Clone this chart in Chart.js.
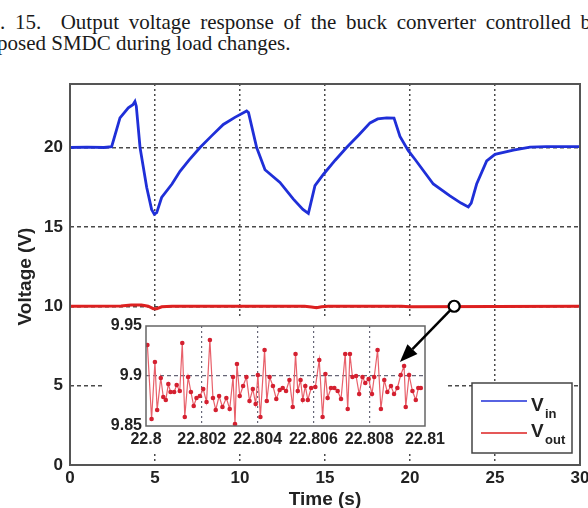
<!DOCTYPE html>
<html>
<head>
<meta charset="utf-8">
<script src="https://cdn.jsdelivr.net/npm/chart.js@4.4.1/dist/chart.umd.min.js"></script>
<style>
html,body{margin:0;padding:0;background:#fff;width:588px;height:508px;overflow:hidden;position:relative}
.cap{position:absolute;font-family:"Liberation Serif","Times New Roman",serif;font-size:21px;line-height:21px;color:#1a1a1a}
#cap1{left:0px;top:12px;width:591px;text-align:justify;text-align-last:justify;white-space:normal}
#cap2{left:-3px;top:33px;white-space:nowrap}
canvas{position:absolute}
</style>
</head>
<body>
<div class="cap" id="cap1">. 15.&nbsp; Output voltage response of the buck converter controlled b</div>
<div class="cap" id="cap2">posed SMDC during load changes.</div>
<canvas id="main" width="588" height="508" style="left:0;top:0"></canvas>
<canvas id="inset" width="380" height="162" style="left:100px;top:296px"></canvas>
<script>
// ---------- data ----------
const xTitle = 'Time (s)';
const yTitle = 'Voltage (V)';
const xTicks = [0, 5, 10, 15, 20, 25, 30];
const yTicks = [0, 5, 10, 15, 20];
const legendSubs = ['in', 'out'];

const vinTime = [0, 1, 2, 2.45, 2.94, 3.43, 3.7, 3.82, 3.9, 4.12, 4.51, 4.8, 4.96, 5.1, 5.39, 6.0, 6.47, 7.0, 7.65, 8.3, 9.02, 9.7, 10.39, 10.5, 10.98, 11.47, 12.35, 13.14, 13.7, 14.02, 14.1, 14.41, 14.9, 15.6, 16.27, 17.0, 17.65, 18.1, 18.63, 19.06, 19.41, 19.9, 20.29, 21.37, 22.35, 23.0, 23.43, 23.6, 23.92, 24.51, 25.0, 26.08, 27.06, 28, 30];
const vinValues = [20.0, 20.02, 20.0, 20.05, 21.87, 22.5, 22.7, 22.9, 22.6, 20.0, 17.5, 16.1, 15.8, 15.9, 16.85, 17.7, 18.5, 19.2, 20.0, 20.7, 21.45, 21.9, 22.3, 22.2, 20.0, 18.6, 17.8, 16.75, 16.1, 15.85, 16.2, 17.6, 18.3, 19.2, 20.0, 20.8, 21.55, 21.8, 21.87, 21.85, 20.7, 19.8, 19.26, 17.7, 16.95, 16.5, 16.26, 16.5, 17.7, 19.15, 19.57, 19.83, 20.03, 20.05, 20.05];

const voutTime = [0, 3.0, 3.6, 4.2, 4.6, 4.9, 5.1, 5.4, 6.0, 13.8, 14.2, 14.5, 14.8, 15.2, 19.5, 20.0, 30];
const voutValues = [10.0, 10.02, 10.08, 10.08, 10.0, 9.85, 9.85, 9.97, 10.0, 10.0, 9.95, 9.9, 9.97, 10.0, 10.0, 9.97, 10.0];

const insetXTicks = [22.8, 22.802, 22.804, 22.806, 22.808, 22.81];
const insetYTicks = [9.85, 9.9, 9.95];
const insetTime = [22.80005, 22.80020, 22.80032, 22.80040, 22.80053, 22.80062, 22.80071, 22.80080, 22.80088, 22.80101,
  22.80110, 22.80121, 22.80130, 22.80139, 22.80151, 22.80161, 22.80171, 22.80181, 22.80193, 22.80205,
  22.80217, 22.80229, 22.80240, 22.80250, 22.80262, 22.80274, 22.80288, 22.80300, 22.80312, 22.80319,
  22.80326, 22.80336, 22.80348, 22.80360, 22.80371, 22.80383, 22.80393, 22.80401, 22.80410, 22.80425,
  22.80433, 22.80443, 22.80455, 22.80467, 22.80479, 22.80490, 22.80502, 22.80514, 22.80526, 22.80536,
  22.80544, 22.80554, 22.80562, 22.80571, 22.80580, 22.80592, 22.80607, 22.80621, 22.80633, 22.80643,
  22.80651, 22.80663, 22.80675, 22.80687, 22.80699, 22.80714, 22.80723, 22.80731, 22.80740, 22.80753,
  22.80764, 22.80776, 22.80786, 22.80798, 22.80810, 22.80818, 22.80830, 22.80842, 22.80854, 22.80865,
  22.80878, 22.80889, 22.80901, 22.80913, 22.80925, 22.80931, 22.80943, 22.80955, 22.80967, 22.80976, 22.80985];
const insetVout = [9.931, 9.857, 9.914, 9.866, 9.898, 9.879, 9.876, 9.892, 9.884, 9.884,
  9.891, 9.885, 9.933, 9.859, 9.899, 9.884, 9.870, 9.878, 9.880, 9.887,
  9.874, 9.936, 9.878, 9.866, 9.880, 9.869, 9.878, 9.867, 9.899, 9.852,
  9.912, 9.880, 9.890, 9.899, 9.875, 9.887, 9.872, 9.901, 9.859, 9.926,
  9.875, 9.899, 9.890, 9.877, 9.886, 9.888, 9.885, 9.896, 9.869, 9.922,
  9.885, 9.896, 9.876, 9.890, 9.876, 9.888, 9.889, 9.916, 9.859, 9.902,
  9.878, 9.888, 9.888, 9.885, 9.877, 9.922, 9.867, 9.922, 9.899, 9.900,
  9.882, 9.899, 9.893, 9.897, 9.882, 9.899, 9.926, 9.867, 9.896, 9.884,
  9.890, 9.882, 9.888, 9.901, 9.910, 9.869, 9.901, 9.885, 9.876, 9.888, 9.888];

// annotation anchors (data coordinates)
const markerPoint = {x: 22.6, y: 10};
const arrowTip = {x: 22.8091, y: 9.914};

// ---------- styling ----------
const FONT = '"Liberation Sans", Arial, Helvetica, sans-serif';
Chart.defaults.font.family = FONT;
Chart.defaults.color = '#222';
const BLUE = '#1f2fd8';
const RED = '#dd2020';
const GRID = '#4a4a4a';

const pairs = (xs, ys) => xs.map((x, i) => ({x: x, y: ys[i]}));
const isEdge = (c, lo, hi) => c.tick && (Math.abs(c.tick.value - lo) < 1e-9 || Math.abs(c.tick.value - hi) < 1e-9);
const noOverhang = s => { s.paddingLeft = 0; s.paddingRight = 0; s.paddingTop = 0; s.paddingBottom = 0; };

const mainDeco = {
  id: 'mainDeco',
  afterDraw(chart) {
    const {ctx, chartArea: a} = chart;
    ctx.save();
    ctx.strokeStyle = '#555';
    ctx.lineWidth = 2;
    ctx.strokeRect(a.left, a.top, a.right - a.left, a.bottom - a.top);
    ctx.fillStyle = '#222';
    ctx.font = 'bold 19px ' + FONT;
    ctx.textAlign = 'center';
    ctx.textBaseline = 'middle';
    ctx.fillText(xTitle, (a.left + a.right) / 2, a.bottom + 35);
    ctx.save();
    ctx.font = 'bold 19px ' + FONT;
    ctx.translate(a.left - 44, (a.top + a.bottom) / 2 + 2);
    ctx.rotate(-Math.PI / 2);
    ctx.fillText(yTitle, 0, 0);
    ctx.restore();
    // legend
    const bx = a.right - 108, by = a.bottom - 82, bw = 100, bh = 70;
    ctx.fillStyle = '#fff';
    ctx.fillRect(bx, by, bw, bh);
    ctx.strokeStyle = '#444';
    ctx.lineWidth = 1.5;
    ctx.strokeRect(bx, by, bw, bh);
    chart.data.datasets.forEach((ds, i) => {
      const ly = by + 18 + i * 32;
      ctx.strokeStyle = ds.borderColor;
      ctx.lineWidth = 1.5;
      ctx.beginPath();
      ctx.moveTo(bx + 9, ly);
      ctx.lineTo(bx + 55, ly);
      ctx.stroke();
      ctx.fillStyle = '#222';
      ctx.textAlign = 'left';
      ctx.textBaseline = 'alphabetic';
      ctx.font = 'bold 19px ' + FONT;
      const vb = ly + (i === 0 ? 10 : 4);
      ctx.fillText('V', bx + 59, vb);
      ctx.font = 'bold 13px ' + FONT;
      ctx.fillText(legendSubs[i], bx + 73, vb + 7);
    });
    ctx.restore();
  }
};

const mainChart = new Chart(document.getElementById('main'), {
  type: 'line',
  data: {
    datasets: [
      {label: 'Vin', data: pairs(vinTime, vinValues), borderColor: BLUE, backgroundColor: BLUE, borderWidth: 2.8, pointRadius: 0, tension: 0},
      {label: 'Vout', data: pairs(voutTime, voutValues), borderColor: RED, backgroundColor: RED, borderWidth: 3, pointRadius: 0, tension: 0}
    ]
  },
  options: {
    responsive: false, animation: false, devicePixelRatio: 1,
    layout: {padding: {top: 84, right: 8, left: 0, bottom: 0}},
    plugins: {legend: {display: false}, tooltip: {enabled: false}},
    scales: {
      x: {
        type: 'linear', min: 0, max: 30,
        afterBuildTicks: s => { s.ticks = xTicks.map(v => ({value: v})); },
        afterFit: s => { s.height = 43; noOverhang(s); },
        ticks: {font: {size: 17, weight: 'bold'}, color: '#222', padding: 3, maxRotation: 0, autoSkip: false},
        grid: {color: c => isEdge(c, 0, 30) ? 'rgba(0,0,0,0)' : GRID, lineWidth: 1.5, drawTicks: false},
        border: {display: false, dash: [2, 3]}
      },
      y: {
        type: 'linear', min: 0, max: 24,
        afterBuildTicks: s => { s.ticks = yTicks.map(v => ({value: v})); },
        afterFit: s => { s.width = 70; noOverhang(s); },
        ticks: {font: {size: 17, weight: 'bold'}, color: '#222', padding: 7},
        grid: {color: c => isEdge(c, 0, 24) ? 'rgba(0,0,0,0)' : GRID, lineWidth: 1.4, drawTicks: false},
        border: {display: false, dash: [4, 3]}
      }
    }
  },
  plugins: [mainDeco]
});

const insetDeco = {
  id: 'insetDeco',
  beforeDraw(chart) {
    const {ctx, chartArea: a} = chart;
    ctx.save();
    ctx.fillStyle = '#fff';
    ctx.fillRect(a.left - 44, a.top - 8, (a.right - a.left) + 67, (a.bottom - a.top) + 34);
    ctx.restore();
  },
  afterDraw(chart) {
    const {ctx, chartArea: a} = chart;
    ctx.save();
    ctx.strokeStyle = '#666';
    ctx.lineWidth = 1.5;
    ctx.strokeRect(a.left, a.top, a.right - a.left, a.bottom - a.top);
    // arrow from marker on main chart to inset
    const cv = chart.canvas, mv = mainChart.canvas;
    const ox = cv.offsetLeft - mv.offsetLeft, oy = cv.offsetTop - mv.offsetTop;
    const cx = mainChart.scales.x.getPixelForValue(markerPoint.x) - ox;
    const cy = mainChart.scales.y.getPixelForValue(markerPoint.y) - oy;
    const tx = chart.scales.x.getPixelForValue(arrowTip.x);
    const ty = chart.scales.y.getPixelForValue(arrowTip.y);
    const ang = Math.atan2(ty - cy, tx - cx);
    const r = 5.5, headL = 18, headW = 7;
    const sx = cx + Math.cos(ang) * r, sy = cy + Math.sin(ang) * r;
    const bxp = tx - Math.cos(ang) * headL, byp = ty - Math.sin(ang) * headL;
    ctx.strokeStyle = '#000';
    ctx.fillStyle = '#000';
    ctx.lineWidth = 2.5;
    ctx.beginPath(); ctx.moveTo(sx, sy); ctx.lineTo(bxp, byp); ctx.stroke();
    ctx.beginPath();
    ctx.moveTo(tx, ty);
    ctx.lineTo(bxp + Math.sin(ang) * headW, byp - Math.cos(ang) * headW);
    ctx.lineTo(bxp - Math.sin(ang) * headW, byp + Math.cos(ang) * headW);
    ctx.closePath(); ctx.fill();
    ctx.beginPath(); ctx.arc(cx, cy, r, 0, Math.PI * 2);
    ctx.fillStyle = '#fff'; ctx.fill();
    ctx.lineWidth = 2.2; ctx.stroke();
    ctx.restore();
  }
};

new Chart(document.getElementById('inset'), {
  type: 'line',
  data: {
    datasets: [{label: 'Vout zoom', data: pairs(insetTime, insetVout), borderColor: '#e8606a', borderWidth: 1.2,
      pointRadius: 2.3, pointBorderWidth: 0, pointBackgroundColor: '#d42030', tension: 0}]
  },
  options: {
    responsive: false, animation: false, devicePixelRatio: 1,
    layout: {padding: {top: 30, right: 55, left: 0, bottom: 0}},
    plugins: {legend: {display: false}, tooltip: {enabled: false}},
    scales: {
      x: {
        type: 'linear', min: 22.8, max: 22.81,
        afterBuildTicks: s => { s.ticks = insetXTicks.map(v => ({value: v})); },
        afterFit: s => { s.height = 32; noOverhang(s); },
        ticks: {callback: v => String(Number(v.toFixed(3))), font: {size: 16, weight: 'bold'}, color: '#222', padding: 4, maxRotation: 0, autoSkip: false},
        grid: {color: c => isEdge(c, 22.8, 22.81) ? 'rgba(0,0,0,0)' : '#667', lineWidth: 1.2, drawTicks: false},
        border: {display: false, dash: [2, 3]}
      },
      y: {
        type: 'linear', min: 9.85, max: 9.95,
        afterBuildTicks: s => { s.ticks = insetYTicks.map(v => ({value: v})); },
        afterFit: s => { s.width = 46; noOverhang(s); },
        ticks: {callback: v => String(Number(v.toFixed(2))), font: {size: 16, weight: 'bold'}, color: '#222', padding: 4},
        grid: {color: c => isEdge(c, 9.85, 9.95) ? 'rgba(0,0,0,0)' : '#667', lineWidth: 1.2, drawTicks: false},
        border: {display: false, dash: [4, 3]}
      }
    }
  },
  plugins: [insetDeco]
});
</script>
</body>
</html>
